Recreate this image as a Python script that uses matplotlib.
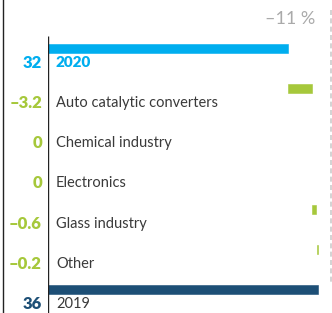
import matplotlib
matplotlib.use("Agg")
import matplotlib.pyplot as plt
from matplotlib.lines import Line2D

categories = ['2020', 'Auto catalytic converters', 'Chemical industry',
              'Electronics', 'Glass industry', 'Other', '2019']
values = [32, -3.2, 0, 0, -0.6, -0.2, 36]
value_labels = ['32', '\u20133.2', '0', '0', '\u20130.6', '\u20130.2', '36']
change_label = '\u201311 %'

light_blue = '#00AEEF'
dark_blue = '#1D4F76'
green = '#A6C83B'
text_col = '#3A3A3A'

plt.rcParams['font.family'] = ['Lato', 'DejaVu Sans']

W, H = 332, 313
fig = plt.figure(figsize=(W / 100, H / 100), dpi=100)
x0 = 48
ax = fig.add_axes([x0 / W, 0, 1 - x0 / W, 1])
px_per_unit = 7.5
ax.set_xlim(0, (W - x0) / px_per_unit)
row_px = 40.2
top_px = 62
ax.set_ylim((H - top_px) / row_px, -top_px / row_px)
ax.axis('off')

n = len(categories)
rows = list(range(n))
bar_off = 13.5 / row_px
bar_h = 9 / row_px

# waterfall: start from the bottom total and walk upward
running = values[-1]
lefts = [0] * n
widths = [0] * n
colors = [green] * n
lefts[-1], widths[-1], colors[-1] = 0, values[-1], dark_blue
for i in range(n - 2, 0, -1):
    d = values[i]
    lefts[i] = running + d
    widths[i] = -d
    running += d
lefts[0], widths[0], colors[0] = 0, values[0], light_blue

edge_w = [0.4 if w else 0 for w in widths]
ax.barh([r - bar_off for r in rows], widths, left=lefts, height=bar_h,
        color=colors, edgecolor=colors, linewidth=edge_w)

tr = ax.get_yaxis_transform()
for i, r in enumerate(rows):
    ax.text(-6 / (W - x0), r + 0.02, value_labels[i], transform=tr, ha='right',
            va='center', fontsize=12, fontweight='heavy', color=colors[i],
            clip_on=False)
    if i == 0:
        ax.text(8 / (W - x0), r + 0.02, categories[i], transform=tr, ha='left',
                va='center', fontsize=11, fontweight='heavy', color=light_blue)
    else:
        ax.text(8 / (W - x0), r + 0.02, categories[i], transform=tr, ha='left',
                va='center', fontsize=10.5, color=text_col)

# axis line and dashed reference
ax.vlines(0, (36 - top_px) / row_px, (H - top_px) / row_px, color='#222222', lw=1)
ax.vlines((331 - x0) / px_per_unit, (10 - top_px) / row_px, (282 - top_px) / row_px,
          color='#CCCCCC', lw=1.2, linestyles=(0, (3, 2)))

ax.text((315 - x0) / px_per_unit, (19 - top_px) / row_px, change_label,
        ha='right', va='center', fontsize=13, color='#AAAAAA')

fig.add_artist(Line2D([3 / W, 3 / W], [0, 1], color='#222222', lw=1))

fig.savefig('out.png', dpi=100)
